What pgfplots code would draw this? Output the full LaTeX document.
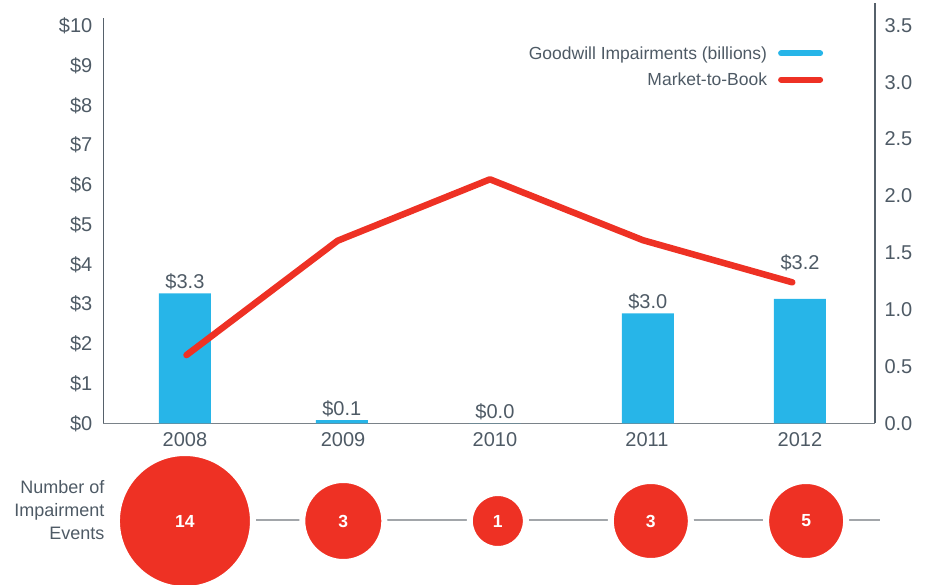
\documentclass[border=0pt]{standalone}
\usepackage{fontspec}
\setmainfont{Liberation Sans}
\usepackage{pgfplots}
\pgfplotsset{compat=1.18}
\definecolor{barblue}{HTML}{27B5E8}
\definecolor{linered}{HTML}{EE3124}
\definecolor{txt}{HTML}{4E5A65}
\definecolor{axisgray}{HTML}{56616B}
\definecolor{xaxisgray}{HTML}{7A8289}
\definecolor{linegray}{HTML}{A2A6AA}
\begin{document}
\begin{tikzpicture}[x=1pt,y=1pt]
\useasboundingbox (0,0) rectangle (928,584);
% ---------- left axis with bars ----------
\begin{axis}[
  at={(103.3pt,160.7pt)}, anchor=south west,
  scale only axis, width=771.7pt, height=420.3pt,
  xmin=-0.531, xmax=4.488, ymin=0, ymax=10.58,
  axis x line*=bottom, axis y line*=left,
  x axis line style={draw=xaxisgray, line width=1.2pt, -},
  y axis line style={draw=none},
  xtick={0,1.028,2.016,3.005,4},
  xticklabels={2008,2009,2010,2011,2012},
  ytick={0,1,...,10},
  yticklabel={\$\pgfmathprintnumber{\tick}},
  /pgf/number format/assume math mode=true,
  major tick length=0pt,
  tick label style={font=\fontsize{20}{22}\selectfont, text=txt},
  xticklabel style={yshift=-5.5pt},
  yticklabel style={xshift=-7.5pt},
  clip=false,
]
\draw[axisgray, line width=1.2pt] (axis cs:-0.531,0) -- (axis cs:-0.531,10.2);
\addplot[ybar, bar width=52pt, bar shift=0pt, fill=barblue, draw=none,
  point meta=\thisrow{lab},
  nodes near coords={\$\pgfmathprintnumber[fixed,fixed zerofill,precision=1]{\pgfplotspointmeta}},
  visualization depends on={\thisrow{dy} \as \dy},
  every node near coord/.append style={font=\fontsize{20}{22}\selectfont, text=txt, yshift=\dy pt}]
  table[x=x, y=y] {
x      y     lab  dy
0      3.27  3.3  0
1.02   0.08  0.1  0
2.016  0     0.0  0
3.01   2.77  3.0  0
4.0    3.13  3.2  25
};
\end{axis}
% ---------- right axis with market-to-book line ----------
\begin{axis}[
  at={(103.3pt,160.7pt)}, anchor=south west,
  scale only axis, width=771.7pt, height=420.3pt,
  xmin=-0.531, xmax=4.488, ymin=0, ymax=3.697,
  axis x line=none, axis y line*=right,
  y axis line style={draw=axisgray, line width=1.2pt, -},
  ytick={0,0.5,...,3.5},
  /pgf/number format/fixed, /pgf/number format/fixed zerofill, /pgf/number format/precision=1,
  /pgf/number format/assume math mode=true,
  major tick length=0pt,
  tick label style={font=\fontsize{20}{22}\selectfont, text=txt},
  yticklabel style={xshift=6pt},
  clip=false,
  legend style={at={(rel axis cs:0.933,0.902)}, anchor=north east, draw=none, fill=none,
    font=\fontsize{17.5}{20}\selectfont, text=txt, inner sep=0pt, row sep=8pt},
  legend cell align=right, legend plot pos=right,
]
\addlegendimage{legend image code/.code={\path[draw=none, fill=none] (0pt,0pt) -- (54pt,0pt); \draw[barblue, line width=6pt, line cap=round] (12pt,0pt) -- (51pt,0pt);}}
\addlegendentry{Goodwill Impairments (billions)}
\addlegendimage{legend image code/.code={\path[draw=none, fill=none] (0pt,0pt) -- (54pt,0pt); \draw[linered, line width=6pt, line cap=round] (12pt,0pt) -- (51pt,0pt);}}
\addlegendentry{Market-to-Book}
\addplot[linered, line width=6.5pt, line cap=round, line join=round, mark=none]
  coordinates {(0.01,0.60) (0.993,1.606) (1.984,2.146) (2.98,1.61) (3.95,1.24)};
\end{axis}
% ---------- impairment events ----------
\begin{axis}[
  at={(103.3pt,63pt)}, anchor=west,
  scale only axis, width=771.7pt, height=20pt,
  xmin=-0.531, xmax=4.488, ymin=-1, ymax=1,
  hide axis, clip=false,
  every node near coord/.append style={anchor=center, text=white, font=\fontsize{17.5}{20}\selectfont\bfseries},
]
\addplot[linegray, line width=2pt, mark=none] coordinates {(0,0.13) (4.52,0.13)};
\addplot[only marks, mark=*, mark size=68pt, mark options={fill=linered, draw=white, line width=6pt}, nodes near coords={14}] coordinates {(0,0)};
\addplot[only marks, mark=*, mark size=41pt, mark options={fill=linered, draw=white, line width=6pt}, nodes near coords={3}] coordinates {(1.03,0)};
\addplot[only marks, mark=*, mark size=28pt, mark options={fill=linered, draw=white, line width=6pt}, nodes near coords={1}] coordinates {(2.035,0)};
\addplot[only marks, mark=*, mark size=40pt, mark options={fill=linered, draw=white, line width=6pt}, nodes near coords={3}] coordinates {(3.03,0)};
\addplot[only marks, mark=*, mark size=40pt, mark options={fill=linered, draw=white, line width=6pt}, nodes near coords={5}] coordinates {(4.04,0)};
\end{axis}
\node[anchor=east, align=right, text=txt, font=\fontsize{18}{23}\selectfont, inner sep=0pt] at (104.5,74) {Number of\\Impairment\\Events};
\end{tikzpicture}
\end{document}
